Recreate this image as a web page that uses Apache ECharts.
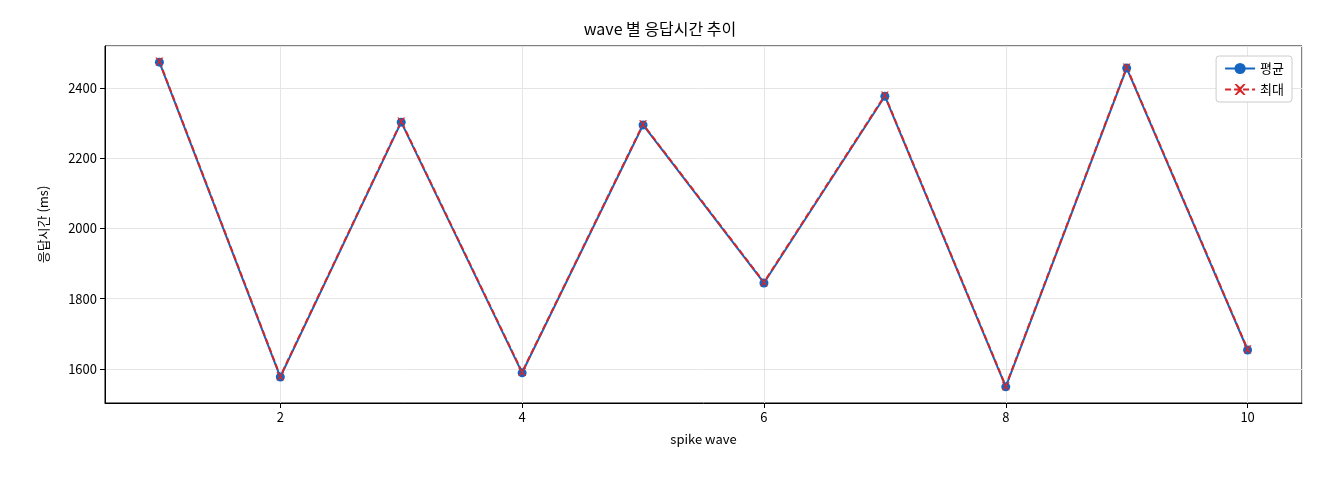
<!DOCTYPE html><html><head><meta charset="utf-8"><script src="https://cdn.jsdelivr.net/npm/echarts@6/dist/echarts.min.js"></script></head><body style="margin:0"><div id="c" style="width:1320px;height:480px"></div><script>
const waves=[1,2,3,4,5,6,7,8,9,10];
const avgVals=[2474,1577,2303,1589,2295,1845,2377,1549,2457,1654];
const maxVals=[2476,1579,2305,1591,2297,1847,2379,1551,2459,1656];
const F='"Noto Sans CJK KR", sans-serif';
const X='path://M0,0L2,0L5,3L8,0L10,0L6,5L10,10L8,10L5,7L2,10L0,10L4,5Z';
const c=echarts.init(document.getElementById('c'));
const ax=(name,gap)=>({type:'value',splitNumber:5,name:name,nameLocation:'middle',nameGap:gap,nameTextStyle:{fontFamily:F,fontSize:13,color:'#000'},
 axisLine:{show:true,lineStyle:{color:'#000'}},axisTick:{show:true,inside:false,lineStyle:{color:'#000'}},
 axisLabel:{fontFamily:F,fontSize:13,color:'#000',showMinLabel:false,showMaxLabel:false,formatter:v=>String(v)},splitLine:{lineStyle:{color:'#e5e5e5'}}});
c.setOption({animation:false,
title:{text:'wave 별 응답시간 추이',left:'center',top:16,textStyle:{fontFamily:F,fontSize:16,fontWeight:'normal',color:'#000'}},
legend:{right:28,top:56,orient:'vertical',itemGap:8,backgroundColor:'#fff',borderColor:'#ccc',borderWidth:1,borderRadius:3,padding:[6,8],textStyle:{fontFamily:F,fontSize:13,color:'#000'},itemWidth:30,
 data:['평균','최대']},
grid:{left:105,right:18,top:46,bottom:77,show:true,borderColor:'#000',borderWidth:1},
xAxis:Object.assign(ax('spike wave',30),{min:0.55,max:10.45}),
yAxis:Object.assign(ax('응답시간 (ms)',55),{min:1503,max:2520}),
series:[
{name:'평균',type:'line',data:waves.map((w,i)=>[w,avgVals[i]]),color:'#1565c0',symbol:'circle',symbolSize:9,lineStyle:{width:2}},
{name:'최대',type:'line',data:waves.map((w,i)=>[w,maxVals[i]]),color:'#d62728',symbol:X,symbolSize:8,lineStyle:{width:2,type:[6,3]}}
]});
</script></body></html>
